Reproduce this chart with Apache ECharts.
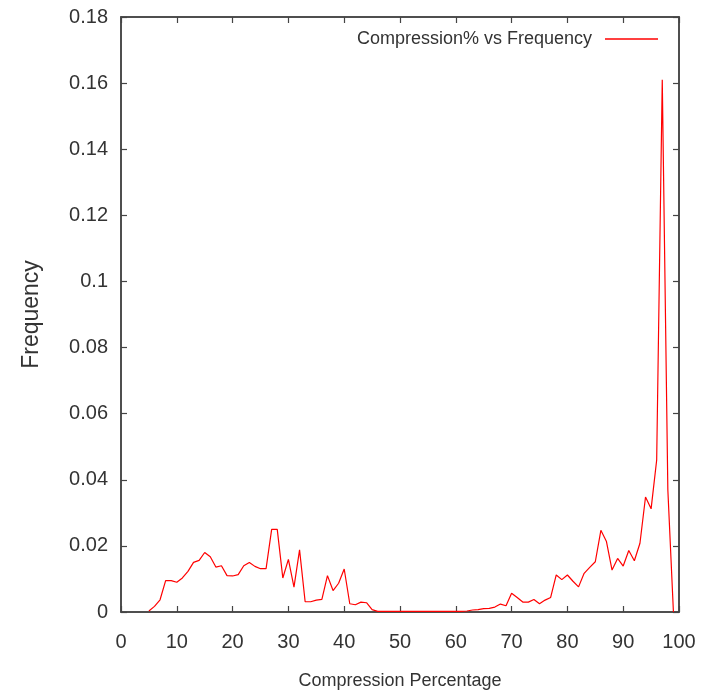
<!DOCTYPE html>
<html>
<head>
<meta charset="utf-8">
<script src="https://cdn.jsdelivr.net/npm/echarts@6/dist/echarts.min.js"></script>
<style>
html,body{margin:0;padding:0;background:#fff;}
#chart{width:706px;height:692px;}
</style>
</head>
<body>
<div id="chart"></div>
<script>
const seriesName = 'Compression% vs Frequency';
const xTitle = 'Compression Percentage';
const yTitle = 'Frequency';
const compression = [5,6,7,8,9,10,11,12,13,14,15,16,17,18,19,20,21,22,23,24,25,26,27,28,29,30,31,32,33,34,35,36,37,38,39,40,41,42,43,44,45,46,47,48,49,50,51,52,53,54,55,56,57,58,59,60,61,62,63,64,65,66,67,68,69,70,71,72,73,74,75,76,77,78,79,80,81,82,83,84,85,86,87,88,89,90,91,92,93,94,95,96,97,98,99];
const frequency = [0.0003,0.0017,0.0037,0.0095,0.0095,0.009,0.0103,0.0123,0.015,0.0156,0.018,0.0167,0.0136,0.014,0.011,0.0109,0.0113,0.014,0.015,0.0138,0.0131,0.0131,0.025,0.025,0.0103,0.0159,0.0075,0.0188,0.0031,0.0031,0.0036,0.0038,0.011,0.0065,0.0087,0.013,0.0025,0.0022,0.003,0.0028,0.0007,
0.0002,0.0002,0.0002,0.0002,0.0002,0.0002,0.0002,0.0002,0.0002,0.0002,0.0002,0.0002,0.0002,0.0002,0.0002,0.0002,
0.0003,0.0006,0.0007,0.001,0.0011,0.0015,0.0024,0.0019,0.0057,0.0044,0.003,0.003,0.0038,0.0025,0.0036,0.0044,0.0112,0.0098,0.0112,0.0093,0.0076,0.0117,0.0135,0.0152,0.0247,0.0213,0.0127,0.0162,0.0139,0.0186,0.0155,0.0208,0.0348,0.0312,0.046,0.161,0.037,0.0];

const FONT = "'Liberation Sans', Arial, sans-serif";
const TXT = '#333';
const AX = '#444';

const chart = echarts.init(document.getElementById('chart'), null, {renderer:'canvas'});
function axisStyle(extra) {
  return Object.assign({
    min: 0,
    axisLine: {show: true, onZero: false, lineStyle: {color: AX, width: 1.5}},
    axisTick: {show: true, inside: true, length: 6, lineStyle: {color: AX, width: 1.2}},
    splitLine: {show: false}
  }, extra);
}
chart.setOption({
  animation: false,
  backgroundColor: '#fff',
  grid: {left: 121, right: 27, top: 17, bottom: 80, containLabel: false, outerBoundsMode: 'none',
         show: true, borderColor: AX, borderWidth: 1.5},
  legend: {
    data: [{name: seriesName, icon: 'rect'}],
    right: 43, top: 25,
    align: 'right',
    itemWidth: 53, itemHeight: 1.5, itemGap: 0,
    textStyle: {fontFamily: FONT, fontSize: 18, color: TXT, padding: [0, 8, 0, 0]}
  },
  xAxis: [
    axisStyle({
      type: 'value', max: 100, interval: 10, position: 'bottom',
      name: xTitle, nameLocation: 'middle', nameGap: 60,
      nameTextStyle: {fontFamily: FONT, fontSize: 18, color: TXT},
      axisLabel: {fontFamily: FONT, fontSize: 20, color: TXT, margin: 20}
    }),
    axisStyle({
      type: 'value', max: 100, interval: 10, position: 'top',
      axisLabel: {show: false}
    })
  ],
  yAxis: [
    axisStyle({
      type: 'value', max: 0.18, interval: 0.02, position: 'left',
      name: yTitle, nameLocation: 'middle', nameGap: 78,
      nameTextStyle: {fontFamily: FONT, fontSize: 23, color: TXT},
      axisLabel: {fontFamily: FONT, fontSize: 20, color: TXT, margin: 13}
    }),
    axisStyle({
      type: 'value', max: 0.18, interval: 0.02, position: 'right',
      axisLabel: {show: false}
    })
  ],
  series: [{
    name: seriesName,
    type: 'line',
    xAxisIndex: 0, yAxisIndex: 0,
    data: compression.map((c, i) => [c, frequency[i]]),
    showSymbol: false, symbol: 'none',
    lineStyle: {color: '#ff0000', width: 1.2},
    itemStyle: {color: '#ff0000'}
  }]
});
</script>
</body>
</html>
